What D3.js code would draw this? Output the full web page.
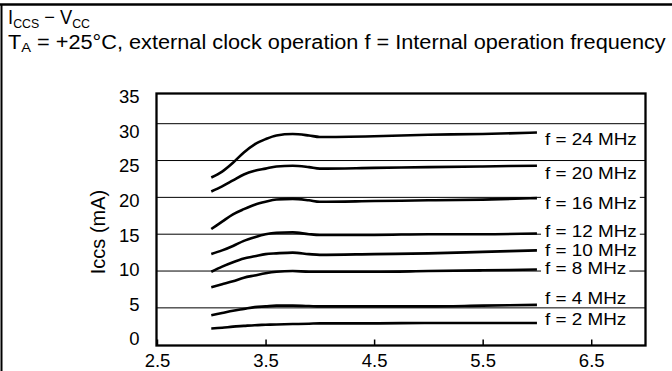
<!DOCTYPE html>
<html><head><meta charset="utf-8">
<script src="https://cdn.jsdelivr.net/npm/d3@7"></script>
<style>
html,body{margin:0;padding:0;background:#fff;}
svg{display:block;font-family:"Liberation Sans",Arial,sans-serif;}
</style></head><body>
<svg id="c" width="672" height="371"></svg>
<script>
// ---- data ----
const xTicks = [2.5, 3.5, 4.5, 5.5, 6.5];
const yTicks = [0, 5, 10, 15, 20, 25, 30, 35];
const gridValues = [5, 10, 15, 20, 25, 30];
const vcc = [3.0, 3.1, 3.2, 3.3, 3.4, 3.5, 3.6, 3.75, 3.9, 4.0, 4.5, 5.0, 5.5, 6.0];
const f24 = [22.7, 23.5, 24.7, 26.1, 27.2, 27.9, 28.4, 28.6, 28.4, 28.2, 28.3, 28.5, 28.6, 28.8];
const f20 = [20.8, 21.5, 22.3, 23.1, 23.6, 23.9, 24.2, 24.3, 24.1, 23.9, 24.0, 24.1, 24.2, 24.3];
const f16 = [15.7, 16.7, 17.7, 18.4, 19.0, 19.4, 19.7, 19.8, 19.6, 19.4, 19.5, 19.6, 19.7, 19.9];
const f12 = [12.3, 12.8, 13.4, 14.1, 14.6, 15.0, 15.2, 15.25, 15.0, 14.9, 14.9, 15.0, 15.0, 15.1];
const f10 = [9.9, 10.6, 11.2, 11.7, 12.0, 12.3, 12.4, 12.5, 12.3, 12.2, 12.3, 12.4, 12.6, 12.8];
const f8  = [7.8, 8.2, 8.6, 9.1, 9.4, 9.7, 9.9, 10.0, 9.9, 9.9, 9.9, 10.0, 10.1, 10.2];
const f4  = [4.0, 4.3, 4.6, 4.85, 5.1, 5.2, 5.3, 5.3, 5.25, 5.2, 5.2, 5.2, 5.3, 5.4];
const f2  = [2.2, 2.3, 2.45, 2.55, 2.65, 2.7, 2.75, 2.8, 2.85, 2.9, 2.9, 2.95, 2.95, 2.95];
const seriesNames = ["f = 24 MHz","f = 20 MHz","f = 16 MHz","f = 12 MHz","f = 10 MHz","f = 8 MHz","f = 4 MHz","f = 2 MHz"];
const seriesValues = [f24, f20, f16, f12, f10, f8, f4, f2];
const labelPos = [27.9, 23.3, 19.2, 15.35, 12.8, 10.3, 6.3, 3.45]; // label anchor values (mA)

// ---- layout ----
const L = 156.5, R = 645.5, T = 93.5, B = 345.5;
const svg = d3.select("#c");
const x = d3.scaleLinear().domain([2.5, 7.0]).range([157, 645.5]);
const y = d3.scaleLinear().domain([0, 30]).range([344.7, 123.7]);
const yLab = d3.scaleLinear().domain([0, 35]).range([338.5, 96]);

// frame lines of the page
svg.append("line").attr("x1",0).attr("x2",672).attr("y1",4.5).attr("y2",4.5).attr("stroke","#000").attr("stroke-width",2.5);
svg.append("line").attr("x1",1.5).attr("x2",1.5).attr("y1",4).attr("y2",371).attr("stroke","#000").attr("stroke-width",2);

function stretch(sel, x0, x1){
  const w = sel.node().getComputedTextLength();
  const s = (x1 - x0) / w;
  sel.attr("transform", `translate(${x0},0) scale(${s},1) translate(${-x0},0)`);
}

// title
const t1 = svg.append("text").attr("x",8).attr("y",24.5).attr("font-size",20);
t1.append("tspan").text("I");
t1.append("tspan").attr("font-size",13.5).attr("dy",3.5).text("CCS");
t1.append("tspan").attr("dy",-3.5).text(" \u2212 V");
t1.append("tspan").attr("font-size",13.5).attr("dy",3.5).text("CC");
stretch(t1, 9, 91);
const t2 = svg.append("text").attr("x",8).attr("y",49).attr("font-size",20);
t2.append("tspan").text("T");
t2.append("tspan").attr("font-size",13.5).attr("dy",3.5).text("A");
t2.append("tspan").attr("dy",-3.5).text(" = +25°C, external clock operation f = Internal operation frequency");
stretch(t2, 9, 667);

// gridlines
svg.append("g").selectAll("line").data(gridValues).join("line")
  .attr("x1",L).attr("x2",R).attr("y1",d=>y(d)).attr("y2",d=>y(d))
  .attr("stroke","#000").attr("stroke-width",1);

// curves
const line = d3.line().x((d,i)=>x(vcc[i])).y(d=>y(d)).curve(d3.curveMonotoneX);
svg.append("g").selectAll("path").data(seriesValues).join("path")
  .attr("d", line).attr("fill","none").attr("stroke","#000").attr("stroke-width",2.6);

// labels with white background
const lg = svg.append("g");
seriesNames.forEach((n,i)=>{
  const g = lg.append("g");
  const r = g.append("rect").attr("fill","#fff");
  const t = g.append("text").attr("x",545).attr("y",y(labelPos[i])).attr("dy","0.35em").attr("font-size",16).text(n);
  const w = t.node().getComputedTextLength();
  const s = 1.18;
  t.attr("transform",`translate(545,0) scale(${s},1) translate(-545,0)`);
  r.attr("x",541).attr("y",y(labelPos[i])-8).attr("width",w*s+7).attr("height",16);
});

// axes box
svg.append("rect").attr("x",L).attr("y",T).attr("width",R-L).attr("height",B-T)
  .attr("fill","none").attr("stroke","#000").attr("stroke-width",2.3);

// x axis
const xa = svg.append("g").attr("transform",`translate(0,${B})`)
  .call(d3.axisBottom(x).tickValues(xTicks).tickFormat(d3.format(".1f")).tickSizeInner(-6).tickSizeOuter(0));
xa.select(".domain").remove();
xa.selectAll("line").attr("stroke-width",1.5);
xa.selectAll("text").attr("font-size",18.5).attr("font-family","Liberation Sans, Arial, sans-serif")
  .attr("y",21).attr("dy",0);

// y axis labels
const ya = svg.append("g").attr("transform",`translate(${L},0)`)
  .call(d3.axisLeft(yLab).tickValues(yTicks).tickSize(0));
ya.select(".domain").remove();
ya.selectAll("text").attr("font-size",18.5).attr("font-family","Liberation Sans, Arial, sans-serif")
  .attr("x",-17).attr("dy","0.35em");

svg.append("text").attr("transform","translate(105,232) rotate(-90)").attr("text-anchor","middle")
  .attr("font-size",20).text("Iccs (mA)");
</script></body></html>
